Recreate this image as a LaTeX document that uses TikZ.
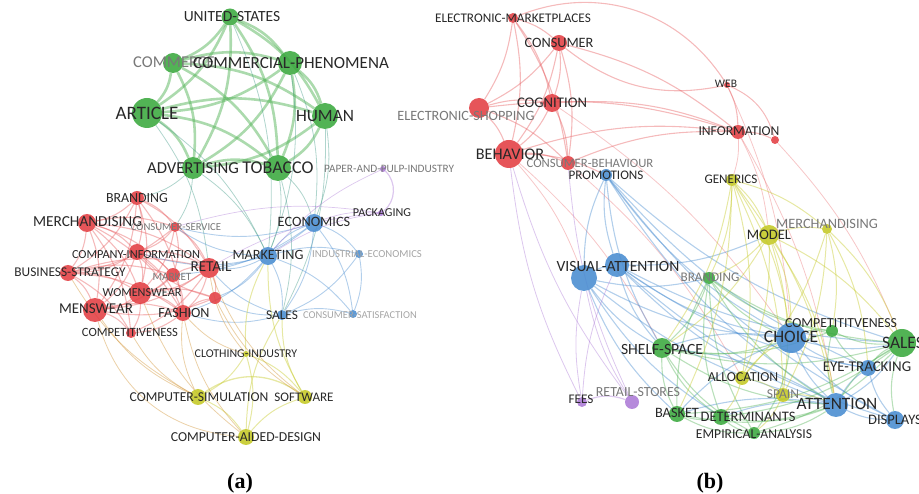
\documentclass[tikz,border=0pt]{standalone}
\usepackage{fontspec}
\setmainfont{Carlito}
\newfontfamily\capfont{Liberation Serif}
\pgfdeclarelayer{links}
\pgfsetlayers{links,main}

\definecolor{nred}{RGB}{226,62,66}
\definecolor{ngreen}{RGB}{58,168,62}
\definecolor{nblue}{RGB}{72,140,208}
\definecolor{nyellow}{RGB}{196,200,36}
\definecolor{npurple}{RGB}{172,122,214}
\definecolor{ink}{RGB}{40,40,40}
\definecolor{dim}{RGB}{120,120,120}
\definecolor{faint}{RGB}{165,165,165}

\tikzset{
  kw/.style={circle, inner sep=0pt, minimum size=#1, fill opacity=.88},
  lab/.style={font=\fontsize{#1}{#1}\selectfont, text=ink, inner sep=0pt},
  lnk/.style={line width=#1, opacity=.42},
  lnk/.default=.9pt,
}

\begin{document}
\begin{tikzpicture}[x=1pt, y=-1pt]
\useasboundingbox (0,0) rectangle (919,494);

% ---- (a) keywords
\node[kw=17, fill=ngreen] (us) at (230,17) {};
\node[kw=20, fill=ngreen] (cmc) at (173,63) {};
\node[kw=24, fill=ngreen] (cph) at (290,63) {};
\node[kw=30, fill=ngreen] (art) at (147,113) {};
\node[kw=26, fill=ngreen] (hum) at (325,116) {};
\node[kw=22, fill=ngreen] (adv) at (193,168) {};
\node[kw=26, fill=ngreen] (tob) at (278,168) {};
\node[kw=6, fill=npurple] (ppi) at (383,169) {};
\node[kw=6, fill=npurple] (pkg) at (381,213) {};
\node[kw=14, fill=nred] (brd) at (137,198) {};
\node[kw=18, fill=nred] (mer) at (87,223) {};
\node[kw=10, fill=nred] (csv) at (175,227) {};
\node[kw=16, fill=nred] (cin) at (137,252) {};
\node[kw=16, fill=nred] (bst) at (68,273) {};
\node[kw=14, fill=nred] (mkt) at (173,275) {};
\node[kw=20, fill=nred] (ret) at (209,268) {};
\node[kw=22, fill=nred] (wom) at (140,293) {};
\node[kw=12, fill=nred] (rx) at (215,298) {};
\node[kw=24, fill=nred] (men) at (95,310) {};
\node[kw=16, fill=nred] (fas) at (183,313) {};
\node[kw=10, fill=nred] (cmp) at (131,333) {};
\node[kw=18, fill=nblue] (eco) at (314,223) {};
\node[kw=18, fill=nblue] (mkg) at (268,256) {};
\node[kw=8, fill=nblue] (ind) at (359,254) {};
\node[kw=10, fill=nblue] (sal) at (282,315) {};
\node[kw=8, fill=nblue] (csat) at (353,314) {};
\node[kw=6, fill=nyellow] (cli) at (246,354) {};
\node[kw=16, fill=nyellow] (csim) at (198,397) {};
\node[kw=14, fill=nyellow] (sw) at (305,397) {};
\node[kw=16, fill=nyellow] (cad) at (246,437) {};

\node[lab=15.5] (us-t) at (232,17) {UNITED-STATES};
\node[lab=16.5, text=dim] (cmc-t) at (174,62) {COMMERCE};
\node[lab=17] (cph-t) at (291,63) {COMMERCIAL-PHENOMENA};
\node[lab=19] (art-t) at (147,113) {ARTICLE};
\node[lab=17.3] (hum-t) at (325,116) {HUMAN};
\node[lab=16.7] (adv-t) at (193,168) {ADVERTISING};
\node[lab=18] (tob-t) at (278,168) {TOBACCO};
\node[lab=11.3, text=dim] (ppi-t) at (389,169) {PAPER-AND-PULP-INDUSTRY};
\node[lab=12.1] (pkg-t) at (382,213) {PACKAGING};
\node[lab=13.9] (brd-t) at (137,198) {BRANDING};
\node[lab=15.3] (mer-t) at (87.5,222) {MERCHANDISING};
\node[lab=10.7, text=dim] (csv-t) at (176,227) {CONSUMER-SERVICE};
\node[lab=12.3] (cin-t) at (136,255) {COMPANY-INFORMATION};
\node[lab=13.4] (bst-t) at (70,272) {BUSINESS-STRATEGY};
\node[lab=11.2, text=dim] (mkt-t) at (172,277) {MARKET};
\node[lab=15.2] (ret-t) at (211,267) {RETAIL};
\node[lab=12.2] (wom-t) at (142,293) {WOMENSWEAR};
\node[lab=15] (men-t) at (96,309) {MENSWEAR};
\node[lab=14.1] (fas-t) at (184,313) {FASHION};
\node[lab=12.6] (cmp-t) at (130,332) {COMPETITIVENESS};
\node[lab=14.3] (eco-t) at (314,222) {ECONOMICS};
\node[lab=14.2] (mkg-t) at (268,255) {MARKETING};
\node[lab=10.7, text=faint] (ind-t) at (367,254) {INDUSTRIAL-ECONOMICS};
\node[lab=13.3] (sal-t) at (282,315) {SALES};
\node[lab=10.5, text=faint] (csat-t) at (360,315) {CONSUMER-SATISFACTION};
\node[lab=11.9] (cli-t) at (246,354) {CLOTHING-INDUSTRY};
\node[lab=13.6] (csim-t) at (199,397) {COMPUTER-SIMULATION};
\node[lab=13.1] (sw-t) at (304,397) {SOFTWARE};
\node[lab=13.7] (cad-t) at (246,437) {COMPUTER-AIDED-DESIGN};

% ---- (b) keywords
\node[kw=10, fill=nred] (emk) at (513,18) {};
\node[kw=16, fill=nred] (con) at (559,43) {};
\node[kw=6, fill=nred] (web) at (727,85) {};
\node[kw=20, fill=nred] (esh) at (479,108) {};
\node[kw=18, fill=nred] (cog) at (552,103) {};
\node[kw=14, fill=nred] (inf) at (738,132) {};
\node[kw=8, fill=nred] (rs) at (775,140) {};
\node[kw=28, fill=nred] (beh) at (509,154) {};
\node[kw=14, fill=nred] (cbh) at (568,163) {};
\node[kw=12, fill=nblue] (pro) at (606,175) {};
\node[kw=12, fill=nyellow] (gen) at (732,180) {};
\node[kw=10, fill=nyellow] (mrb) at (827,229) {};
\node[kw=20, fill=nyellow] (mod) at (769,235) {};
\node[kw=24, fill=nblue] (va1) at (617,265) {};
\node[kw=26, fill=nblue] (va2) at (584,278) {};
\node[kw=12, fill=ngreen] (brb) at (709,278) {};
\node[kw=12, fill=ngreen] (cpt) at (832,331) {};
\node[kw=30, fill=nblue] (cho) at (791,338) {};
\node[kw=28, fill=ngreen] (slb) at (902,343) {};
\node[kw=20, fill=ngreen] (shf) at (662,348) {};
\node[kw=16, fill=nblue] (eye) at (868,368) {};
\node[kw=14, fill=nyellow] (all) at (742,378) {};
\node[kw=14, fill=nyellow] (spa) at (783,395) {};
\node[kw=24, fill=nblue] (att) at (836,405) {};
\node[kw=10, fill=npurple] (fee) at (582,402) {};
\node[kw=14, fill=npurple] (rst) at (632,402) {};
\node[kw=16, fill=ngreen] (bsk) at (677,414) {};
\node[kw=16, fill=ngreen] (det) at (721,417) {};
\node[kw=18, fill=nblue] (dis) at (895,420) {};
\node[kw=12, fill=ngreen] (emp) at (754,433) {};

\node[lab=13.2] (emk-t) at (513,18) {ELECTRONIC-MARKETPLACES};
\node[lab=14.3] (con-t) at (559,43) {CONSUMER};
\node[lab=11.5] (web-t) at (726,84) {WEB};
\node[lab=14.2, text=dim] (esh-t) at (466,116) {ELECTRONIC-SHOPPING};
\node[lab=14.7] (cog-t) at (552,103) {COGNITION};
\node[lab=13.6] (inf-t) at (739,131) {INFORMATION};
\node[lab=16.2] (beh-t) at (510,154) {BEHAVIOR};
\node[lab=12.7, text=dim] (cbh-t) at (590,163) {CONSUMER-BEHAVIOUR};
\node[lab=13.1] (pro-t) at (606,175) {PROMOTIONS};
\node[lab=13.1] (gen-t) at (731,179) {GENERICS};
\node[lab=14.3, text=dim] (mrb-t) at (827,224) {MERCHANDISING};
\node[lab=14.5] (mod-t) at (769,235) {MODEL};
\node[lab=15.6] (va-t) at (618,266) {VISUAL-ATTENTION};
\node[lab=13.2, text=dim] (brb-t) at (710,277) {BRANDING};
\node[lab=13.8] (cpt-t) at (841,323) {COMPETITITVENESS};
\node[lab=17.5] (cho-t) at (791,337) {CHOICE};
\node[lab=17.5] (slb-t) at (903,343) {SALES};
\node[lab=15.6] (shf-t) at (662,349) {SHELF-SPACE};
\node[lab=14.9] (eye-t) at (867,367) {EYE-TRACKING};
\node[lab=13.7] (all-t) at (743,377) {ALLOCATION};
\node[lab=13.5, text=dim] (spa-t) at (783,394) {SPAIN};
\node[lab=17.3] (att-t) at (837,404) {ATTENTION};
\node[lab=13.2] (fee-t) at (581,399) {FEES};
\node[lab=13.9, text=dim] (rst-t) at (638,392) {RETAIL-STORES};
\node[lab=14.3] (bsk-t) at (677,413) {BASKET};
\node[lab=14.5] (det-t) at (748,417) {DETERMINANTS};
\node[lab=14.5] (dis-t) at (895,420) {DISPLAYS};
\node[lab=13.6] (emp-t) at (754,434) {EMPIRICAL-ANALYSIS};

\node[font=\capfont\bfseries\fontsize{22}{22}\selectfont] (cap-a) at (240,483) {(a)};
\node[font=\capfont\bfseries\fontsize{22}{22}\selectfont] (cap-b) at (710,483) {(b)};

\begin{pgfonlayer}{links}
% (a) green block
\foreach \a/\b in {us/cmc,us/cph,us/art,us/hum,us/adv,us/tob,cmc/cph,cmc/art,cmc/hum,cmc/adv,cmc/tob,
  cph/art,cph/hum,cph/adv,cph/tob,art/hum,art/adv,art/tob,hum/adv,hum/tob,adv/tob}
  \draw[lnk=2.6pt, ngreen!85, opacity=.5] (\a) to[bend left=16] (\b);
\foreach \a/\b in {adv/brd,adv/mkg,tob/mkg,tob/eco,hum/eco,hum/sal,art/mkg,cph/eco,cph/mkg,us/mkg,tob/sal,art/ret,adv/csv}
  \draw[lnk=.8pt, ngreen!50!nblue] (\a) to[bend left=14] (\b);
% (a) red block
\foreach \a/\b in {brd/mer,brd/csv,brd/cin,brd/bst,brd/ret,brd/men,brd/wom,brd/fas,mer/csv,mer/cin,mer/bst,
  mer/mkt,mer/ret,mer/wom,mer/men,mer/fas,mer/cmp,csv/cin,csv/ret,csv/mkt,csv/wom,csv/bst,cin/bst,cin/mkt,
  cin/ret,cin/wom,cin/men,cin/fas,bst/mkt,bst/wom,bst/men,bst/fas,bst/cmp,bst/ret,mkt/ret,mkt/wom,mkt/men,
  mkt/fas,ret/wom,ret/men,ret/fas,ret/rx,ret/cmp,wom/men,wom/fas,wom/rx,wom/cmp,men/fas,men/cmp,fas/rx,
  fas/cmp,rx/cin,rx/men}
  \draw[lnk=1.1pt, nred!85] (\a) to[bend left=15] (\b);
% (a) blue block
\foreach \a/\b in {mkg/eco,mkg/ind,mkg/sal,mkg/csat,eco/ind,eco/sal,eco/csat,ind/csat,ind/sal,sal/csat,
  mkg/ret,mkg/csv,mkg/cin,mkg/fas,mkg/rx,sal/fas,sal/ret,sal/rx,eco/ret,eco/csv,eco/mkt}
  \draw[lnk, nblue] (\a) to[bend left=15] (\b);
% (a) purple
\draw[lnk=1.2pt, npurple] (ppi) to[bend left=50] (pkg);
\foreach \a/\b in {pkg/mkg,pkg/csv,pkg/ret,ppi/mkg,pkg/eco}
  \draw[lnk=.7pt, npurple] (\a) to[bend right=12] (\b);
% (a) yellow
\draw[lnk=1.3pt, nyellow] (csim) to[bend left=35] (sw);
\foreach \a/\b in {csim/cad,cad/sw,cli/csim,cli/sw,cli/cad,cli/mkg,sw/mkg,sw/sal,cad/sal}
  \draw[lnk=1pt, nyellow] (\a) to[bend left=15] (\b);
\foreach \a/\b in {men/csim,cmp/csim,fas/csim,fas/cli,ret/cli,ret/sw,rx/sw,wom/cad,fas/cad,bst/csim}
  \draw[lnk=.8pt, nyellow!60!nred] (\a) to[bend right=15] (\b);
\draw[lnk=.8pt, nyellow!60!nred] (men) to[bend right=35] (cad);

% (b) red block
\draw[lnk=1.1pt, nred!85] (emk) to[bend left=40] (web);
\draw[lnk=1.1pt, nred!85] (con) to[bend right=25] (web);
\foreach \a/\b in {emk/con,emk/esh,emk/beh,emk/cog,con/esh,con/beh,con/cog,con/cbh,con/inf,esh/cog,esh/beh,
  esh/cbh,esh/inf,cog/beh,cog/cbh,cog/inf,beh/cbh,beh/inf,cbh/inf,web/inf,inf/rs,beh/pro,emk/cbh}
  \draw[lnk=1.1pt, nred!85] (\a) to[bend left=12] (\b);
\draw[lnk=1pt, nred!85] (web) to[bend left=25] (rs);
\foreach \a/\b in {beh/va2,cog/cho,inf/gen,inf/mod,rs/slb,inf/att,beh/shf,cbh/all,web/cho}
  \draw[lnk=.8pt, nred!70] (\a) to[bend left=10] (\b);
% (b) blue block
\foreach \a/\b in {pro/va1,pro/va2,pro/cho,pro/att,pro/eye,pro/shf,pro/slb,pro/dis,va1/va2,va1/cho,va2/cho,
  va1/att,va2/att,va1/eye,va2/shf,va1/shf,va1/dis,va2/brb,va1/mod,va1/slb,cho/att,cho/eye,cho/dis,cho/slb,
  att/dis,eye/dis,eye/att,att/slb,att/bsk,cho/bsk,att/det,va2/det,va2/bsk,cho/shf,att/shf}
  \draw[lnk=1.1pt, nblue] (\a) to[bend right=12] (\b);
% (b) green block
\foreach \a/\b in {shf/bsk,shf/det,shf/emp,shf/cho,shf/slb,shf/brb,bsk/det,bsk/emp,det/emp,det/att,det/slb,
  brb/cho,brb/slb,brb/bsk,brb/det,brb/att,brb/cpt,brb/emp,cpt/slb,cpt/cho,cpt/att,cpt/eye,slb/att,slb/eye,
  slb/dis,emp/att,emp/slb,bsk/slb,bsk/att,shf/att,shf/cpt,emp/cho}
  \draw[lnk=1.1pt, ngreen!85] (\a) to[bend right=14] (\b);
% (b) yellow block
\foreach \a/\b in {gen/mod,gen/mrb,gen/all,gen/spa,gen/shf,gen/cho,gen/bsk,gen/brb,mod/mrb,mod/all,mod/spa,
  mod/cho,mod/slb,mod/att,mod/shf,mod/brb,mrb/slb,mrb/spa,mrb/all,mrb/cpt,mrb/eye,all/spa,all/cho,spa/att,
  all/det,spa/emp,gen/att}
  \draw[lnk=1pt, nyellow] (\a) to[bend left=12] (\b);
% (b) purple
\draw[lnk=1.2pt, npurple] (fee) to[bend left=20] (rst);
\foreach \a/\b in {fee/va2,rst/va2,fee/va1,fee/beh,rst/beh,rst/cbh}
  \draw[lnk=.8pt, npurple] (\a) to[bend left=10] (\b);
\end{pgfonlayer}
\end{tikzpicture}
\end{document}
